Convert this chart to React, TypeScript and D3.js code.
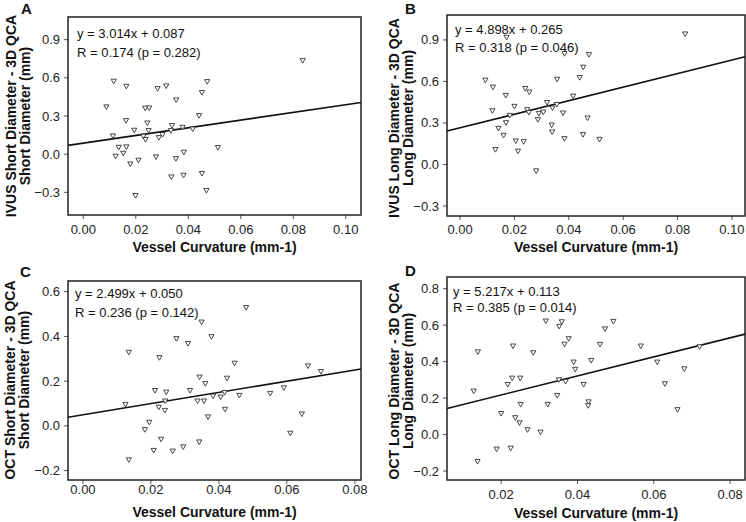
import React from "react";
import * as d3 from "d3";

// ---------- data ----------
const aCurv = [0.0836,0.0116,0.0164,0.0283,0.0316,0.0472,0.0452,0.0354,0.0088,0.0236,0.0251,0.0441,0.0163,0.0244,0.0338,0.0378,0.0417,0.0194,0.0249,0.0334,0.0113,0.0229,0.0302,0.0288,0.0237,0.0135,0.0164,0.0513,0.0152,0.0123,0.0383,0.0277,0.0353,0.0210,0.0179,0.0452,0.0335,0.0382,0.0469,0.0199];
const aDiff = [0.733,0.571,0.531,0.513,0.534,0.568,0.482,0.424,0.369,0.359,0.361,0.301,0.262,0.243,0.223,0.209,0.196,0.186,0.183,0.183,0.141,0.139,0.152,0.128,0.113,0.052,0.055,0.050,0.005,-0.018,0.013,-0.024,-0.037,-0.050,-0.079,-0.154,-0.181,-0.168,-0.288,-0.327];

const bCurv = [0.0828,0.0171,0.0384,0.0474,0.0453,0.0440,0.0357,0.0093,0.0121,0.0240,0.0255,0.0168,0.0416,0.0320,0.0200,0.0356,0.0340,0.0119,0.0247,0.0253,0.0306,0.0290,0.0379,0.0183,0.0286,0.0469,0.0169,0.0337,0.0141,0.0339,0.0160,0.0384,0.0452,0.0513,0.0205,0.0234,0.0130,0.0213,0.0280];
const bDiff = [0.941,0.917,0.799,0.792,0.701,0.626,0.614,0.607,0.557,0.547,0.521,0.497,0.492,0.446,0.418,0.432,0.406,0.386,0.394,0.374,0.377,0.367,0.370,0.353,0.322,0.334,0.300,0.283,0.259,0.233,0.209,0.185,0.214,0.180,0.168,0.163,0.106,0.094,-0.048];

const cCurv = [0.0480,0.0349,0.0378,0.0275,0.0309,0.0135,0.0225,0.0446,0.0662,0.0700,0.0343,0.0424,0.0360,0.0591,0.0212,0.0315,0.0245,0.0417,0.0551,0.0460,0.0383,0.0405,0.0242,0.0337,0.0356,0.0125,0.0223,0.0241,0.0418,0.0368,0.0644,0.0195,0.0182,0.0610,0.0230,0.0342,0.0295,0.0208,0.0264,0.0135];
const cDiff = [0.528,0.463,0.398,0.389,0.367,0.328,0.304,0.279,0.267,0.242,0.217,0.212,0.188,0.169,0.157,0.157,0.150,0.148,0.144,0.135,0.132,0.128,0.110,0.110,0.110,0.095,0.082,0.068,0.073,0.039,0.052,0.015,-0.018,-0.034,-0.061,-0.073,-0.095,-0.111,-0.114,-0.153];

const dCurv = [0.0317,0.0359,0.0494,0.0352,0.0472,0.0377,0.0366,0.0459,0.0231,0.0566,0.0720,0.0139,0.0284,0.0436,0.0390,0.0609,0.0394,0.0680,0.0229,0.0250,0.0351,0.0369,0.0217,0.0416,0.0629,0.0128,0.0347,0.0429,0.0251,0.0322,0.0428,0.0662,0.0200,0.0237,0.0248,0.0269,0.0303,0.0188,0.0225,0.0138];
const dDiff = [0.621,0.617,0.619,0.592,0.578,0.524,0.494,0.493,0.484,0.484,0.480,0.452,0.447,0.405,0.396,0.396,0.356,0.359,0.308,0.308,0.299,0.290,0.273,0.273,0.277,0.237,0.213,0.178,0.164,0.164,0.157,0.135,0.114,0.091,0.063,0.025,0.012,-0.081,-0.076,-0.149];

const slopes = [3.014, 4.898, 2.499, 5.217];
const intercepts = [0.087, 0.265, 0.050, 0.113];
const rValues = [0.174, 0.318, 0.236, 0.385];
const pValues = [0.282, 0.046, 0.142, 0.014];

const panelLetters = ["A", "B", "C", "D"];
const yTitles1 = ["IVUS Short Diameter - 3D QCA", "IVUS Long Diameter - 3D QCA", "OCT Short Diameter - 3D QCA", "OCT Long Diameter - 3D QCA"];
const yTitles2 = ["Short Diameter (mm)", "Long Diameter (mm)", "Short Diameter (mm)", "Long Diameter (mm)"];
const xTitle = "Vessel Curvature (mm-1)";

const xTicksAB = [0, 0.02, 0.04, 0.06, 0.08, 0.1];
const xTicksC = [0, 0.02, 0.04, 0.06, 0.08];
const xTicksD = [0.02, 0.04, 0.06, 0.08];
const yTicksAB = [-0.3, 0, 0.3, 0.6, 0.9];
const yTicksC = [-0.2, 0, 0.2, 0.4, 0.6];
const yTicksD = [-0.2, 0, 0.2, 0.4, 0.6, 0.8];

// ---------- layout ----------
type Layout = {
  L: number; R: number; T: number; B: number;
  xd: [number, number]; yd: [number, number];
  xt: number[]; yt: number[];
  letterX: number; letterY: number;
  t1x: number; t2x: number; tcy: number;
  annX: number; ann1: number; ann2: number;
  xlabY: number; xtitleY: number; ylabGap: number;
};

const layouts: Layout[] = [
  { L: 68, R: 361, T: 17, B: 215, xd: [-0.00583, 0.1058], yd: [-0.478, 1.078], xt: xTicksAB, yt: yTicksAB,
    letterX: 21, letterY: 14, t1x: 16, t2x: 30, tcy: 116, annX: 77, ann1: 37.5, ann2: 57, xlabY: 233.5, xtitleY: 252, ylabGap: 8 },
  { L: 447, R: 745, T: 15, B: 216, xd: [-0.0048, 0.1048], yd: [-0.372, 1.08], xt: xTicksAB, yt: yTicksAB,
    letterX: 405, letterY: 14, t1x: 399, t2x: 413, tcy: 118, annX: 455, ann1: 34, ann2: 52, xlabY: 233.5, xtitleY: 252, ylabGap: 8 },
  { L: 68, R: 361, T: 281, B: 480, xd: [-0.0044, 0.0818], yd: [-0.242, 0.648], xt: xTicksC, yt: yTicksC,
    letterX: 20, letterY: 277, t1x: 15, t2x: 29, tcy: 380, annX: 75, ann1: 298, ann2: 317, xlabY: 494, xtitleY: 517, ylabGap: 8 },
  { L: 447, R: 745, T: 277, B: 480, xd: [0.0058, 0.0839], yd: [-0.249, 0.864], xt: xTicksD, yt: yTicksD,
    letterX: 405, letterY: 276, t1x: 399, t2x: 413, tcy: 381, annX: 453, ann1: 296, ann2: 312, xlabY: 499, xtitleY: 518, ylabGap: 8 },
];

const seriesX = [aCurv, bCurv, cCurv, dCurv];
const seriesY = [aDiff, bDiff, cDiff, dDiff];

const FONT = "'Liberation Sans', Arial, Helvetica, sans-serif";

function Panel({ i }: { i: number }) {
  const lay = layouts[i];
  const xs = seriesX[i];
  const ys = seriesY[i];
  const x = d3.scaleLinear().domain(lay.xd).range([lay.L, lay.R]);
  const y = d3.scaleLinear().domain(lay.yd).range([lay.B, lay.T]);
  const xf = d3.format(".2f");
  const yf = d3.format(".1f");
  const line = d3.line<number>().x((v) => x(v)).y((v) => y(slopes[i] * v + intercepts[i]));
  const tri = (cx: number, cy: number) => {
    const w = 2.6, h = 2.3;
    return `M${cx - w},${cy - h}L${cx + w},${cy - h}L${cx},${cy + h}Z`;
  };
  const fmtY = (v: number) => (Math.abs(v) < 1e-9 ? "0.0" : yf(v));
  return (
    <g>
      <text x={lay.letterX} y={lay.letterY} fontFamily={FONT} fontWeight="bold" fontSize={15} fill="#111">{panelLetters[i]}</text>
      <g transform={`translate(${lay.t1x},${lay.tcy}) rotate(-90)`}>
        <text textAnchor="middle" fontFamily={FONT} fontWeight="bold" fontSize={14} fill="#111">{yTitles1[i]}</text>
      </g>
      <g transform={`translate(${lay.t2x},${lay.tcy}) rotate(-90)`}>
        <text textAnchor="middle" fontFamily={FONT} fontWeight="bold" fontSize={14} fill="#111">{yTitles2[i]}</text>
      </g>
      <text x={(lay.L + lay.R) / 2} y={lay.xtitleY} textAnchor="middle" fontFamily={FONT} fontWeight="bold" fontSize={14} fill="#111">{xTitle}</text>
      {lay.xt.map((t) => (
        <g key={"xt" + t}>
          <line x1={x(t)} x2={x(t)} y1={lay.B} y2={lay.B + 4} stroke="#555" strokeWidth={1} />
          <text x={x(t)} y={lay.xlabY} textAnchor="middle" fontFamily={FONT} fontSize={13} fill="#222">{xf(t)}</text>
        </g>
      ))}
      {lay.yt.map((t) => (
        <g key={"yt" + t}>
          <line x1={lay.L - 4} x2={lay.L} y1={y(t)} y2={y(t)} stroke="#555" strokeWidth={1} />
          <text x={lay.L - lay.ylabGap} y={y(t) + 4.5} textAnchor="end" fontFamily={FONT} fontSize={13} fill="#222">{fmtY(t)}</text>
        </g>
      ))}
      <rect x={lay.L} y={lay.T} width={lay.R - lay.L} height={lay.B - lay.T} fill="white" stroke="#222" strokeWidth={1.5} />
      <path d={line(lay.xd) || ""} fill="none" stroke="#111" strokeWidth={1.6} />
      {xs.map((v, k) => (
        <path key={k} d={tri(x(v), y(ys[k]))} fill="white" stroke="#333" strokeWidth={0.9} />
      ))}
      <text x={lay.annX} y={lay.ann1} fontFamily={FONT} fontSize={13} fill="#111">
        {`y = ${slopes[i].toFixed(3)}x + ${intercepts[i].toFixed(3)}`}
      </text>
      <text x={lay.annX} y={lay.ann2} fontFamily={FONT} fontSize={13} fill="#111">
        {`R = ${rValues[i].toFixed(3)} (p = ${pValues[i].toFixed(3)})`}
      </text>
    </g>
  );
}

export default function App() {
  return (
    <svg width={746} height={522} style={{ position: "absolute", left: 0, top: 0, background: "white" }}>
      <rect x={0} y={0} width={746} height={522} fill="white" />
      {[0, 1, 2, 3].map((i) => (
        <Panel key={i} i={i} />
      ))}
    </svg>
  );
}
